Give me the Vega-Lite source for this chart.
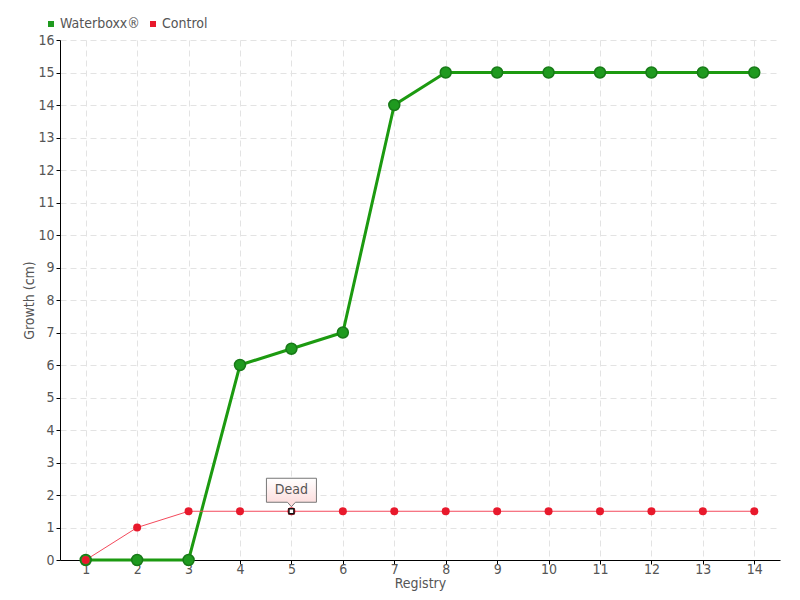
{
  "$schema": "https://vega.github.io/schema/vega-lite/v6.json",
  "width": 720,
  "height": 520,
  "autosize": "none",
  "padding": {"left": 60, "top": 40, "right": 20, "bottom": 40},
  "background": "white",
  "config": {
    "view": {"stroke": null},
    "font": "DejaVu Sans Condensed, Roboto, sans-serif",
    "axis": {
      "gridDash": [6, 4],
      "gridColor": "#e3e3e3",
      "gridWidth": 1,
      "domainColor": "#000",
      "tickColor": "#000",
      "labelColor": "#555",
      "titleColor": "#555",
      "labelFontSize": 14,
      "titleFontSize": 14,
      "titleFontWeight": "normal",
      "labelFont": "DejaVu Sans Condensed, Roboto, sans-serif",
      "titleFont": "DejaVu Sans Condensed, Roboto, sans-serif"
    }
  },
  "data": {
    "values": [
      {"registry": 1, "growth": 0, "series": "Waterboxx®"},
      {"registry": 2, "growth": 0, "series": "Waterboxx®"},
      {"registry": 3, "growth": 0, "series": "Waterboxx®"},
      {"registry": 4, "growth": 6, "series": "Waterboxx®"},
      {"registry": 5, "growth": 6.5, "series": "Waterboxx®"},
      {"registry": 6, "growth": 7, "series": "Waterboxx®"},
      {"registry": 7, "growth": 14, "series": "Waterboxx®"},
      {"registry": 8, "growth": 15, "series": "Waterboxx®"},
      {"registry": 9, "growth": 15, "series": "Waterboxx®"},
      {"registry": 10, "growth": 15, "series": "Waterboxx®"},
      {"registry": 11, "growth": 15, "series": "Waterboxx®"},
      {"registry": 12, "growth": 15, "series": "Waterboxx®"},
      {"registry": 13, "growth": 15, "series": "Waterboxx®"},
      {"registry": 14, "growth": 15, "series": "Waterboxx®"},
      {"registry": 1, "growth": 0, "series": "Control"},
      {"registry": 2, "growth": 1, "series": "Control"},
      {"registry": 3, "growth": 1.5, "series": "Control"},
      {"registry": 4, "growth": 1.5, "series": "Control"},
      {"registry": 5, "growth": 1.5, "series": "Control", "note": "Dead"},
      {"registry": 6, "growth": 1.5, "series": "Control"},
      {"registry": 7, "growth": 1.5, "series": "Control"},
      {"registry": 8, "growth": 1.5, "series": "Control"},
      {"registry": 9, "growth": 1.5, "series": "Control"},
      {"registry": 10, "growth": 1.5, "series": "Control"},
      {"registry": 11, "growth": 1.5, "series": "Control"},
      {"registry": 12, "growth": 1.5, "series": "Control"},
      {"registry": 13, "growth": 1.5, "series": "Control"},
      {"registry": 14, "growth": 1.5, "series": "Control"}
    ]
  },
  "encoding": {
    "x": {
      "field": "registry",
      "type": "quantitative",
      "scale": {"domain": [0.5, 14.5], "nice": false, "zero": false},
      "axis": {
        "title": "Registry",
        "values": [1, 2, 3, 4, 5, 6, 7, 8, 9, 10, 11, 12, 13, 14],
        "tickSize": 4,
        "labelPadding": -2,
        "titlePadding": 0,
        "labelFlush": false
      }
    },
    "y": {
      "field": "growth",
      "type": "quantitative",
      "scale": {"domain": [0, 16], "nice": false},
      "axis": {
        "title": "Growth (cm)",
        "values": [0, 1, 2, 3, 4, 5, 6, 7, 8, 9, 10, 11, 12, 13, 14, 15, 16],
        "tickSize": 4,
        "labelPadding": 2,
        "titlePadding": 1
      }
    }
  },
  "layer": [
    {
      "transform": [{"filter": "datum.series == 'Waterboxx®'"}],
      "mark": {"type": "line", "color": "#1c9a10", "strokeWidth": 3}
    },
    {
      "transform": [{"filter": "datum.series == 'Control'"}],
      "mark": {"type": "line", "color": "#f44a5c", "strokeWidth": 1}
    },
    {
      "transform": [{"filter": "datum.series == 'Waterboxx®'"}],
      "mark": {"type": "point", "filled": true, "size": 120, "stroke": "#177a17", "strokeWidth": 1.5, "opacity": 1},
      "encoding": {
        "color": {
          "field": "series",
          "type": "nominal",
          "scale": {"domain": ["Waterboxx®", "Control"], "range": ["#1f9a1f", "#e8192c"]},
          "legend": {
            "title": null,
            "orient": "none",
            "legendX": -16,
            "legendY": -23,
            "direction": "horizontal",
            "symbolType": "square",
            "symbolSize": 36,
            "symbolStrokeWidth": 0,
            "labelFontSize": 14,
            "labelColor": "#555",
            "labelFont": "DejaVu Sans Condensed, Roboto, sans-serif",
            "labelOffset": 2,
            "columnPadding": 6
          }
        }
      }
    },
    {
      "transform": [{"filter": "datum.series == 'Control'"}],
      "mark": {"type": "point", "filled": true, "size": 64, "opacity": 1},
      "encoding": {
        "color": {"field": "series", "type": "nominal"}
      }
    },
    {
      "transform": [{"filter": "datum.note == 'Dead'"}],
      "mark": {"type": "point", "shape": "square", "filled": true, "fill": "white", "stroke": "#111", "strokeWidth": 1.5, "size": 25, "opacity": 1}
    },
    {
      "transform": [{"filter": "datum.note == 'Dead'"}],
      "mark": {
        "type": "point",
        "shape": "M-1,-0.48H1V0.48H0.16L0,0.66L-0.16,0.48H-1Z",
        "size": 2500,
        "filled": true,
        "opacity": 1,
        "yOffset": -21,
        "fill": {
          "gradient": "linear",
          "x1": 0, "y1": 0, "x2": 0, "y2": 1,
          "stops": [{"offset": 0, "color": "#ffffff"}, {"offset": 1, "color": "#fcd8d8"}]
        },
        "stroke": "#777",
        "strokeWidth": 1
      }
    },
    {
      "transform": [{"filter": "datum.note == 'Dead'"}],
      "mark": {"type": "text", "yOffset": -21, "fontSize": 14, "color": "#555", "baseline": "middle", "align": "center", "font": "DejaVu Sans Condensed, Roboto, sans-serif"},
      "encoding": {"text": {"field": "note"}}
    }
  ]
}
